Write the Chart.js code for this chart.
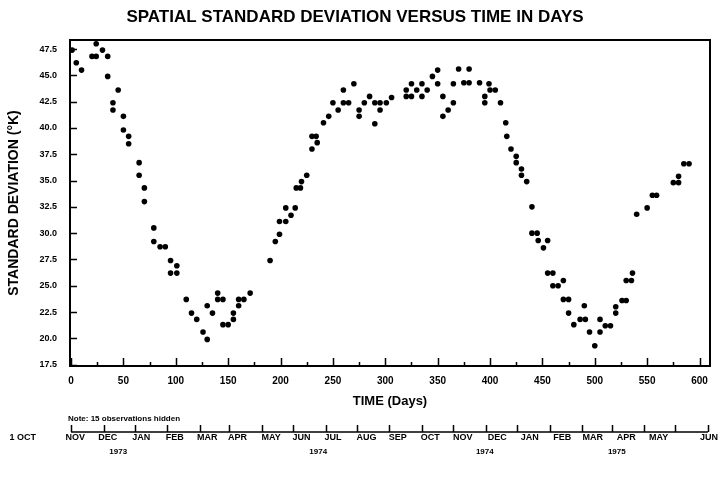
<!DOCTYPE html>
<html lang="en">
<head>
<meta charset="UTF-8">
<title>Spatial standard deviation versus time in days</title>
<script src="https://cdn.jsdelivr.net/npm/chart.js"></script>
<style>
  html, body { margin: 0; padding: 0; background: #fff; }
  #wrap { width: 727px; height: 484px; }
</style>
</head>
<body>
<div id="wrap"><canvas id="sdChart" width="727" height="484"></canvas></div>
<script>
// days since 1 Oct 1973 and the spatial standard deviation (K) observed on that day
const obsDays = [
  1, 5, 10, 20, 24, 24, 30, 35, 35, 40, 40, 45, 50, 50, 55, 55, 65, 65, 70, 70,
  79, 79, 85, 90, 95, 95, 101, 101, 110, 115, 120, 126, 130, 130, 135, 140, 140, 145, 145, 150,
  155, 155, 160, 160, 165, 171, 190, 195, 199, 199, 205, 205, 210, 214, 215, 219, 220, 225, 230, 230,
  234, 235, 241, 246, 250, 255, 260, 265, 260, 270, 275, 275, 280, 285, 290, 295, 301, 290, 295, 306,
  320, 320, 325, 325, 330, 335, 335, 340, 345, 350, 350, 355, 355, 360, 365, 365, 370, 375, 380, 380,
  390, 399, 400, 405, 395, 395, 410, 415, 416, 420, 425, 425, 430, 430, 435, 440, 440, 445, 446, 455,
  451, 455, 460, 460, 465, 470, 470, 475, 475, 480, 486, 491, 490, 495, 500, 505, 505, 510, 515, 520,
  520, 526, 530, 530, 535, 536, 540, 550, 555, 559, 575, 580, 580, 585, 590
];
const stdDev = [
  47.4, 46.2, 45.5, 46.8, 46.8, 48.0, 47.4, 46.8, 44.9, 42.4, 41.7, 43.6, 41.1, 39.8, 39.2, 38.5, 36.7, 35.5, 34.3, 33.0,
  30.5, 29.2, 28.7, 28.7, 27.4, 26.2, 26.9, 26.2, 23.7, 22.4, 21.8, 20.6, 19.9, 23.1, 22.4, 24.3, 23.7, 23.7, 21.3, 21.3,
  22.4, 21.8, 23.1, 23.7, 23.7, 24.3, 27.4, 29.2, 29.9, 31.1, 31.1, 32.4, 31.7, 32.4, 34.3, 34.3, 34.9, 35.5, 38.0, 39.2,
  39.2, 38.6, 40.5, 41.1, 42.4, 41.7, 42.4, 42.4, 43.6, 44.2, 41.7, 41.1, 42.4, 43.0, 42.4, 42.4, 42.4, 40.4, 41.7, 42.9,
  43.6, 43.0, 43.0, 44.2, 43.6, 44.2, 43.0, 43.6, 44.9, 45.5, 44.2, 43.0, 41.1, 41.7, 42.4, 44.2, 45.6, 44.3, 44.3, 45.6,
  44.3, 44.2, 43.6, 43.6, 43.0, 42.4, 42.4, 40.5, 39.2, 38.0, 37.3, 36.7, 36.1, 35.5, 34.9, 32.5, 30.0, 30.0, 29.3, 29.3,
  28.6, 26.2, 26.2, 25.0, 25.0, 25.5, 23.7, 23.7, 22.4, 21.3, 21.8, 21.8, 23.1, 20.6, 19.3, 21.8, 20.6, 21.2, 21.2, 23.0,
  22.4, 23.6, 23.6, 25.5, 25.5, 26.2, 31.8, 32.4, 33.6, 33.6, 34.8, 34.8, 35.4, 36.6, 36.6
];

const yTicks = [17.5, 20, 22.5, 25, 27.5, 30, 32.5, 35, 37.5, 40, 42.5, 45, 47.5];
const dayTicks = [0, 50, 100, 150, 200, 250, 300, 350, 400, 450, 500, 550, 600];

// calendar axis under the chart
const monthStarts = [0, 31, 61, 92, 123, 151, 182, 212, 243, 273, 304, 335, 365, 396, 426, 457, 488, 516, 547, 577, 608];
const monthNames = ['1 OCT', 'NOV', 'DEC', 'JAN', 'FEB', 'MAR', 'APR', 'MAY', 'JUN', 'JUL', 'AUG',
  'SEP', 'OCT', 'NOV', 'DEC', 'JAN', 'FEB', 'MAR', 'APR', 'MAY', 'JUN'];
const monthLabelDays = [-46, 4, 35, 67, 99, 130, 159, 191, 220, 250, 282, 312, 343, 374, 407, 438, 469, 498, 530, 561, 609];
const yearNames = ['1973', '1974', '1974', '1975'];
const yearLabelDays = [45, 236, 395, 521];

const FONT = '"Liberation Sans", Arial, Helvetica, sans-serif';
Chart.defaults.color = '#000';
Chart.defaults.font.family = FONT;

// box around the plot, inward tick marks and the month/year axis
const framePlugin = {
  id: 'frameAndCalendar',
  afterDraw(chart) {
    const ctx = chart.ctx;
    const ca = chart.chartArea;
    const xs = chart.scales.x;
    const ys = chart.scales.y;
    ctx.save();
    ctx.strokeStyle = '#000';
    ctx.lineWidth = 2;
    ctx.strokeRect(ca.left, ca.top, ca.right - ca.left, ca.bottom - ca.top);

    ctx.lineWidth = 1.5;
    ctx.beginPath();
    yTicks.forEach(v => {
      const py = Math.round(ys.getPixelForValue(v)) + 0.5;
      ctx.moveTo(ca.left, py);
      ctx.lineTo(ca.left + 7, py);
    });
    for (let d = 0; d <= 600; d += 25) {
      const px = Math.round(xs.getPixelForValue(d)) + 0.5;
      ctx.moveTo(px, ca.bottom);
      ctx.lineTo(px, ca.bottom - (d % 50 === 0 ? 8 : 4));
    }
    ctx.stroke();

    // note line
    ctx.font = 'bold 8px ' + FONT;
    ctx.textAlign = 'left';
    ctx.textBaseline = 'middle';
    ctx.fillText('Note: 15 observations hidden', 68, 419);

    // calendar axis
    const base = 432;
    ctx.lineWidth = 1.5;
    ctx.beginPath();
    ctx.moveTo(xs.getPixelForValue(0), base);
    ctx.lineTo(xs.getPixelForValue(monthStarts[monthStarts.length - 1]), base);
    monthStarts.forEach(d => {
      const px = Math.round(xs.getPixelForValue(d)) + 0.5;
      ctx.moveTo(px, base);
      ctx.lineTo(px, base - 7);
    });
    ctx.stroke();

    ctx.textAlign = 'center';
    ctx.font = 'bold 9px ' + FONT;
    monthNames.forEach((m, i) => {
      ctx.fillText(m, xs.getPixelForValue(monthLabelDays[i]), base + 6);
    });
    ctx.font = 'bold 8px ' + FONT;
    yearNames.forEach((y, i) => {
      ctx.fillText(y, xs.getPixelForValue(yearLabelDays[i]), base + 20);
    });
    ctx.restore();
  }
};

new Chart(document.getElementById('sdChart'), {
  type: 'scatter',
  data: {
    datasets: [{
      data: obsDays.map((d, i) => ({ x: d, y: stdDev[i] })),
      backgroundColor: '#000',
      borderColor: '#000',
      pointRadius: 2.8,
      pointBorderWidth: 0
    }]
  },
  options: {
    responsive: false,
    animation: false,
    layout: { padding: { left: 0, right: 17, top: 0, bottom: 72 } },
    plugins: {
      legend: { display: false },
      tooltip: { enabled: false },
      title: {
        display: true,
        text: 'SPATIAL STANDARD DEVIATION VERSUS TIME IN DAYS',
        font: { size: 17, weight: 'bold', family: FONT },
        padding: { top: 7, bottom: 12.6 }
      }
    },
    scales: {
      x: {
        type: 'linear',
        min: -1,
        max: 610,
        grid: { display: false, drawTicks: false },
        border: { display: false },
        afterBuildTicks: s => { s.ticks = dayTicks.map(v => ({ value: v })); },
        afterFit: s => { s.height = 46; },
        ticks: { padding: 9, maxRotation: 0, font: { size: 10, weight: 'bold' } },
        title: {
          display: true,
          text: 'TIME (Days)',
          font: { size: 13, weight: 'bold' },
          padding: { top: 0, bottom: 3 }
        }
      },
      y: {
        min: 17.37,
        max: 48.36,
        grid: { display: false, drawTicks: false },
        border: { display: false },
        afterBuildTicks: s => { s.ticks = yTicks.map(v => ({ value: v })); },
        afterFit: s => { s.width = 70; },
        ticks: { padding: 13, font: { size: 9, weight: 'bold' }, callback: v => v.toFixed(1) },
        title: {
          display: true,
          text: 'STANDARD DEVIATION (°K)',
          font: { size: 14, weight: 'bold' },
          padding: { top: 6, bottom: 0 }
        }
      }
    }
  },
  plugins: [framePlugin]
});
</script>
</body>
</html>
